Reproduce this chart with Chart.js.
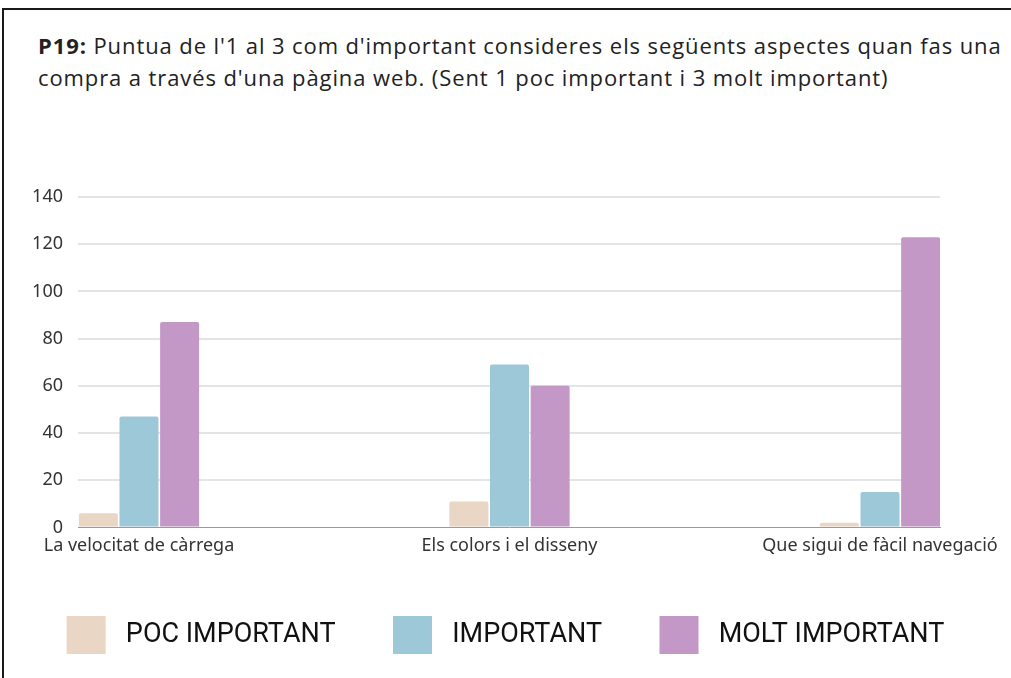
<!DOCTYPE html>
<html>
<head>
<meta charset="utf-8">
<script src="https://cdn.jsdelivr.net/npm/chart.js@4.4.0/dist/chart.umd.min.js"></script>
<style>
  body { margin: 0; background: #fff; width: 1011px; height: 678px; overflow: hidden; position: relative; }
  .frame { position: absolute; left: 2px; top: 8px; width: 1100px; height: 800px; border: 2px solid #1a1a1a; }
  .title { position: absolute; left: 38px; top: 29px; font-family: "Open Sans", sans-serif; font-size: 22px; line-height: 32px; color: #222; white-space: nowrap; letter-spacing: 0.9px; }
  .title b { font-weight: 700; }
  #chart-box { position: absolute; left: 0; top: 160px; width: 1011px; height: 504px; }
</style>
</head>
<body>
<div class="frame"></div>
<div class="title"><b>P19:</b> Puntua de l'1 al 3 com d'important consideres els següents aspectes quan fas una<br>compra a través d'una pàgina web. (Sent 1 poc important i 3 molt important)</div>
<div id="chart-box"><canvas id="p19-chart"></canvas></div>
<script>
const categories = ['La velocitat de càrrega', 'Els colors i el disseny', 'Que sigui de fàcil navegació'];
const pocImportant = [6, 11, 2];
const important = [47, 69, 15];
const moltImportant = [87, 60, 123];
const yTicks = [0, 20, 40, 60, 80, 100, 120, 140];

document.addEventListener("DOMContentLoaded", function() {
    const ctx = document.getElementById('p19-chart').getContext('2d');

    // bars sit on a linear x axis at 0, 1, 2 so the groups can hug the plot edges
    const toPoints = values => values.map((v, i) => ({ x: i, y: v }));

    const barStyle = {
        borderRadius: 2,
        borderSkipped: 'bottom',
        categoryPercentage: 0.329,
        barPercentage: 0.96
    };

    new Chart(ctx, {
        type: 'bar',
        data: {
            datasets: [
                Object.assign({ label: 'POC IMPORTANT', data: toPoints(pocImportant), backgroundColor: '#e9d6c5' }, barStyle),
                Object.assign({ label: 'IMPORTANT', data: toPoints(important), backgroundColor: '#9dc8d8' }, barStyle),
                Object.assign({ label: 'MOLT IMPORTANT', data: toPoints(moltImportant), backgroundColor: '#c498c6' }, barStyle)
            ]
        },
        options: {
            responsive: true,
            maintainAspectRatio: false,
            animation: false,
            layout: {
                padding: { top: 37, right: 0, left: 0, bottom: 0 }
            },
            scales: {
                x: {
                    type: 'linear',
                    offset: false,
                    min: -0.1646,
                    max: 2.1619,
                    afterFit: scale => { scale.height = 31; },
                    grid: { display: false, drawTicks: false },
                    border: { display: true, color: '#9a9a9a', width: 1 },
                    afterBuildTicks: scale => {
                        scale.ticks = categories.map((c, i) => ({ value: i }));
                    },
                    ticks: {
                        autoSkip: false,
                        maxRotation: 0,
                        padding: 8,
                        color: '#333',
                        font: { family: 'Noto Sans', size: 18 },
                        callback: value => categories[value]
                    }
                },
                y: {
                    min: 0,
                    max: 140,
                    afterFit: scale => { scale.width = 78; },
                    afterBuildTicks: scale => {
                        scale.ticks = yTicks.map(v => ({ value: v }));
                    },
                    grid: {
                        drawTicks: false,
                        lineWidth: 2,
                        color: c => c.tick && c.tick.value === 0 ? 'rgba(0,0,0,0)' : '#e4e4e4'
                    },
                    border: { display: false },
                    ticks: {
                        padding: 15,
                        color: '#333',
                        font: { family: 'Noto Sans', size: 18 }
                    }
                },
                // empty right-hand axis, only reserves the space right of the plot
                spacer: {
                    position: 'right',
                    afterFit: scale => { scale.width = 71; },
                    grid: { display: false, drawTicks: false },
                    border: { display: false },
                    ticks: { display: false }
                }
            },
            plugins: {
                legend: {
                    position: 'bottom',
                    labels: {
                        boxWidth: 39,
                        boxHeight: 38,
                        padding: 57.5,
                        color: '#111',
                        font: { family: 'Roboto', size: 27 },
                        // a leading space widens the gap between swatch and text
                        generateLabels: chart => Chart.defaults.plugins.legend.labels.generateLabels(chart)
                            .map(item => Object.assign(item, { text: ' ' + item.text }))
                    }
                },
                tooltip: { enabled: false }
            }
        }
    });
});
</script>
</body>
</html>
